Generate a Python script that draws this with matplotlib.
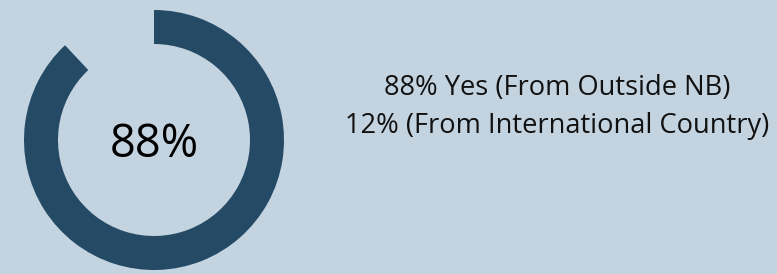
import matplotlib
matplotlib.use("Agg")
import matplotlib.pyplot as plt

# data
shares = [88, 12]
center_label = "88%"
legend_lines = ["88% Yes (From Outside NB)", "12% (From International Country)"]

BG = "#c3d3df"
DARK = "#244a66"

W, H = 777, 274
fig = plt.figure(figsize=(W / 100, H / 100), dpi=100, facecolor=BG)
ax = fig.add_axes([0, 0, 1, 1])
ax.set_facecolor(BG)

cx, cy = 154, H - 140
ax.pie(shares, colors=[DARK, "none"], startangle=90, counterclock=False,
       radius=130, center=(cx, cy),
       wedgeprops=dict(width=34, linewidth=0))
ax.set_xlim(0, W)
ax.set_ylim(0, H)
ax.set_aspect("equal")
ax.axis("off")

ax.text(cx, H - 157, center_label, ha="center", va="baseline",
        fontsize=32.5, family="Open Sans", color="black")

ax.text(557, H - 95, legend_lines[0], ha="center", va="baseline",
        fontsize=19.6, family="Open Sans", color="#111111")
ax.text(557, H - 133, legend_lines[1], ha="center", va="baseline",
        fontsize=19.6, family="Open Sans", color="#111111")

fig.savefig("out.png", dpi=100, facecolor=BG)
